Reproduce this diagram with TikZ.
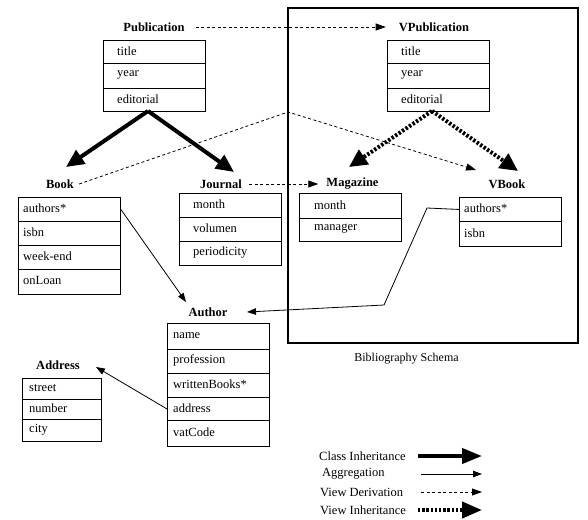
\documentclass[tikz,border=0pt]{standalone}
\usepackage{fontspec}
\setmainfont{Liberation Serif}
\usetikzlibrary{arrows.meta}
\tikzset{
  rowst/.style={draw, line width=0.9pt, inner sep=0pt},
  lbl/.style={font=\fontsize{12.5}{14}\selectfont\bfseries, inner sep=1pt},
  txt/.style={font=\fontsize{12.5}{14}\selectfont, inner sep=0pt},
  inh/.style={line width=4pt, -{Triangle[length=18pt, width=16pt]}},
  agg/.style={line width=0.8pt, -{Triangle[length=9pt, width=6.5pt]}},
  deriv/.style={line width=0.8pt, dash pattern=on 3pt off 2.5pt, -{Triangle[length=10pt, width=7pt]}},
  vinh/.style={line width=4pt, dash pattern=on 2.4pt off 1.8pt, -{Triangle[length=18pt, width=17pt]}},
  frame/.style={draw, line width=2pt},
}
\newcommand\rowbox[7]{%
  \node[rowst, minimum width={(#4-#2)*1pt}, minimum height={(#5-#3)*1pt}, anchor=north west] (#1) at (#2,#3) {};
  \node[txt, anchor=west] (#1t) at ([xshift=#6pt, yshift=1pt]#1.west) {#7};
}
\begin{document}
\begin{tikzpicture}[x=1pt, y=-1pt]
\useasboundingbox (0,0) rectangle (588,519);

% schema frame
\node[frame, minimum width=290pt, minimum height=335pt, anchor=north west, inner sep=0pt] (schema) at (287,7) {};
\node[txt, font=\fontsize{12}{14}\selectfont] (schemalbl) at (406.5,359) {Bibliography Schema};

% Publication
\node[lbl] (pub) at (154,27) {Publication};
\rowbox{pubA}{103}{40}{205}{63}{14}{title}
\rowbox{pubB}{103}{63}{205}{88}{14}{year}
\rowbox{pubC}{103}{88}{205}{111}{14}{editorial}

% VPublication
\node[lbl] (vpub) at (434,27) {VPublication};
\rowbox{vpubA}{387}{40}{489}{63}{14}{title}
\rowbox{vpubB}{387}{63}{489}{88}{14}{year}
\rowbox{vpubC}{387}{88}{489}{111}{14}{editorial}

% Book
\node[lbl] (book) at (60,184) {Book};
\rowbox{bookA}{18}{197}{120}{221}{5}{authors*}
\rowbox{bookB}{18}{221}{120}{245}{5}{isbn}
\rowbox{bookC}{18}{245}{120}{269}{5}{week-end}
\rowbox{bookD}{18}{269}{120}{294}{5}{onLoan}

% Journal
\node[lbl] (jour) at (221,184) {Journal};
\rowbox{jourA}{179}{193}{281}{217}{14}{month}
\rowbox{jourB}{179}{217}{281}{241}{14}{volumen}
\rowbox{jourC}{179}{241}{281}{265}{14}{periodicity}

% Magazine
\node[lbl] (mag) at (352.5,184) {Magazine};
\rowbox{magA}{299}{193}{401}{218}{15}{month}
\rowbox{magB}{299}{218}{401}{241}{15}{manager}

% VBook
\node[lbl] (vbook) at (507,184) {VBook};
\rowbox{vbookA}{459}{197}{561}{221}{5}{authors*}
\rowbox{vbookB}{459}{221}{561}{246}{5}{isbn}

% Author
\node[lbl] (auth) at (208,312) {Author};
\rowbox{authA}{167}{323}{269}{349}{6}{name}
\rowbox{authB}{167}{349}{269}{373}{6}{profession}
\rowbox{authC}{167}{373}{269}{397}{6}{writtenBooks*}
\rowbox{authD}{167}{397}{269}{420}{6}{address}
\rowbox{authE}{167}{420}{269}{446}{6}{vatCode}

% Address
\node[lbl] (addr) at (58,365) {Address};
\rowbox{addrA}{22}{378}{101}{399}{7}{street}
\rowbox{addrB}{22}{399}{101}{419}{7}{number}
\rowbox{addrC}{22}{419}{101}{441}{7}{city}

% coordinates
\coordinate (pubApex) at (148,111);
\coordinate (bookTip) at (66,167);
\coordinate (jourTip) at (234,172);
\coordinate (vpubApex) at (432,111);
\coordinate (magTip) at (349,167);
\coordinate (vbookTip) at (518,171);
\coordinate (bend) at (288,112);
\coordinate (vbookDer) at (476,170);
\coordinate (vb1) at (427,208);
\coordinate (vb2) at (384,305);
\coordinate (authTipL) at (186,302);
\coordinate (authTipR) at (247,312);
\coordinate (addrTip) at (96,367);

% class inheritance
\draw[inh] (pubApex) -- (bookTip);
\draw[inh] (pubApex) -- (jourTip);
% view inheritance
\draw[vinh] (vpubApex) -- (magTip);
\draw[vinh] (vpubApex) -- (vbookTip);
% view derivation
\draw[deriv] ([xshift=10pt]pub.east) -- ([xshift=-12pt]vpub.west);
\draw[deriv] ([xshift=4pt]book.east) -- (bend) -- (vbookDer);
\draw[deriv] ([xshift=6pt]jour.east) -- ([xshift=-7pt]mag.west);
% aggregation
\draw[agg] (bookA.east) -- (authTipL);
\draw[agg] (vbookA.west) -- (vb1) -- (vb2) -- (authTipR);
\draw[agg] (authD.west) -- (addrTip);

% legend
\node[txt, anchor=west] (lg1) at (319,456) {Class Inheritance};
\node[txt, anchor=west] (lg2) at (322,474) {Aggregation};
\node[txt, anchor=west] (lg3) at (320,492) {View Derivation};
\node[txt, anchor=west] (lg4) at (320,510) {View Inheritance};
\coordinate (l1a) at (418,456); \coordinate (l1b) at (482,456);
\coordinate (l2a) at (421,474); \coordinate (l2b) at (482,474);
\coordinate (l3a) at (421,492); \coordinate (l3b) at (482,492);
\coordinate (l4a) at (418,510); \coordinate (l4b) at (482,510);
\draw[inh, -{Triangle[length=20pt, width=15pt]}] (l1a) -- (l1b);
\draw[agg] (l2a) -- (l2b);
\draw[deriv] (l3a) -- (l3b);
\draw[vinh, -{Triangle[length=20pt, width=16pt]}] (l4a) -- (l4b);
\end{tikzpicture}
\end{document}
